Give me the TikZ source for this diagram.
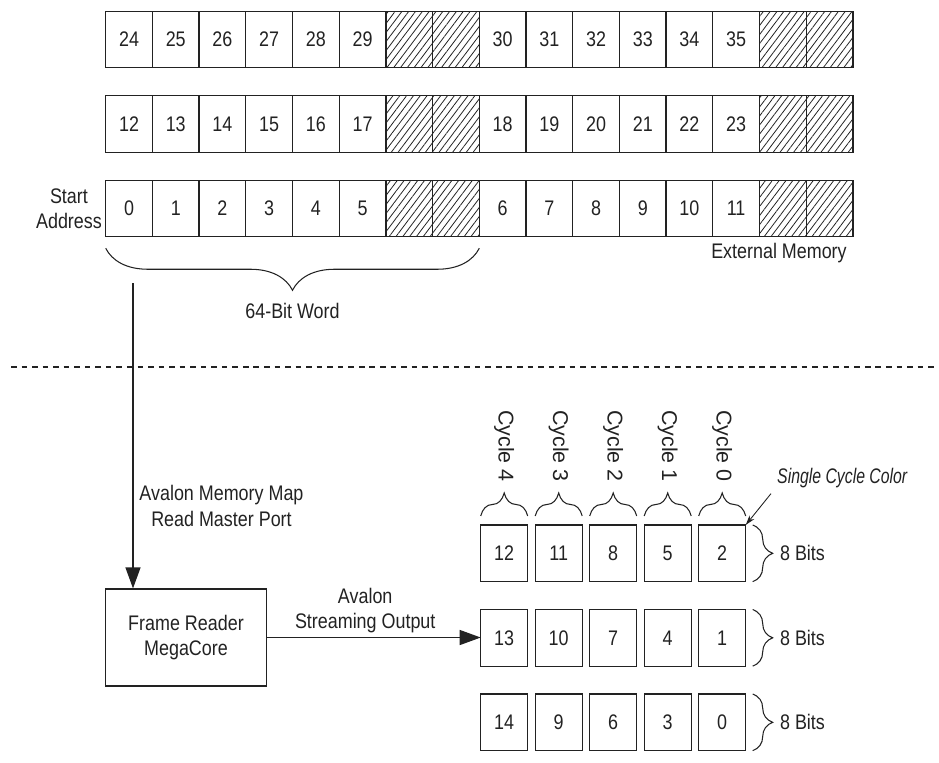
\documentclass[tikz,border=0pt]{standalone}
\usepackage{fontspec}
\setmainfont{Liberation Sans}[FakeStretch=0.85]
\newfontfamily\cyclefont{Liberation Sans}
\newfontfamily\notefont{Liberation Sans}[FakeStretch=0.75]
\usepackage{tikz}
\usetikzlibrary{arrows.meta,calc,decorations.pathreplacing,patterns.meta,positioning}
\definecolor{memink}{HTML}{222222}

\begin{document}
\begin{tikzpicture}[x=0.02cm,y=-0.02cm,
  every node/.style={font=\fontsize{12}{14.3}\selectfont,text=memink},
  memcell/.style={draw=memink,line width=0.7pt,minimum width=0.934cm,minimum height=1.13cm,inner sep=0pt,outer sep=0pt},
  hatchcell/.style={memcell,pattern={Lines[angle=53,distance=3.1pt,line width=0.45pt]},pattern color=memink},
  outcell/.style={draw=memink,line width=0.7pt,minimum width=0.94cm,minimum height=1.134cm,inner sep=0pt,outer sep=0pt},
  bracket/.style={draw=memink,line width=0.6pt,decorate,decoration={brace,#1}},
  flow/.style={draw=memink,line width=0.7pt,-{Triangle[length=0.42cm,width=0.3cm]}}]
  \useasboundingbox (0,0) rectangle (939,762);

  \foreach \r/\yy in {0/208.5,1/124,2/39.5} {
    \foreach \i in {0,...,5} {
      \pgfmathtruncatemacro\cellnum{12*\r+\i}
      \node[memcell] (mem-\r-\i) at (129.05+46.7*\i,\yy) {\cellnum};
    }
    \foreach \i in {8,...,13} {
      \pgfmathtruncatemacro\cellnum{12*\r+\i-2}
      \node[memcell] (mem-\r-\i) at (129.05+46.7*\i,\yy) {\cellnum};
    }
    \foreach \i in {6,7,14,15}
      \node[hatchcell] (mem-\r-\i) at (129.05+46.7*\i,\yy) {};
  }
  \node[anchor=east,align=center,inner sep=2pt] (startaddr) at (mem-0-0.west) {Start\\Address};
  \draw[bracket={mirror,amplitude=0.84cm,raise=0.23cm}] (mem-0-0.south west) -- (mem-0-7.south east)
    node[midway,below=1.2cm] (wordlbl) {64-Bit Word};
  \node[anchor=north east] (extmem) at (mem-0-15.south east) {External Memory};

  \draw[memink,line width=0.9pt,dash pattern=on 3.2pt off 2.8pt] (11,367) -- (937,367);

  \node[draw=memink,line width=0.7pt,minimum width=3.21cm,minimum height=1.94cm,align=center] (reader) at (186,637.5) {Frame Reader\\MegaCore};
  \coordinate (readsrc) at (133,283);
  \draw[flow] (readsrc) -- (readsrc |- reader.north)
    node[pos=0.73,right=0pt,align=center] (readlbl) {Avalon Memory Map\\Read Master Port};

  \foreach \r/\vals in {0/{12,11,8,5,2},1/{13,10,7,4,1},2/{14,9,6,3,0}}
    \foreach \v [count=\c from 0] in \vals
      \node[outcell] (out-\r-\c) at (504.2+54.5*\c,553.3+84.5*\r) {\v};

  \draw[flow] (reader.east) -- (reader.east -| out-1-0.west)
    node[pos=0.46,above=-1pt,align=center] (streamlbl) {Avalon\\Streaming Output};

  \foreach \c in {0,...,4} {
    \pgfmathtruncatemacro\cyc{4-\c}
    \draw[bracket={amplitude=0.46cm,raise=0.18cm}] (out-0-\c.north west) -- (out-0-\c.north east);
    \node[rotate=-90,anchor=east,font=\cyclefont\fontsize{12.2}{14}\selectfont] (cyc-\c) at ($(out-0-\c.north)+(0,-37)$) {Cycle \cyc};
  }
  \foreach \r in {0,1,2}
    \draw[bracket={amplitude=0.4cm,raise=0.14cm}] (out-\r-4.north east) -- (out-\r-4.south east)
      node[midway,right=0.56cm] (bits-\r) {8 Bits};

  \node[anchor=base west,font=\notefont\itshape\fontsize{12}{14}\selectfont] (sccl) at (771,483) {Single Cycle Color};
  \draw[memink,line width=0.5pt,-{Stealth[length=0.2cm,width=0.12cm]}] (sccl.south west) -- (out-0-4.north east);
\end{tikzpicture}
\end{document}
